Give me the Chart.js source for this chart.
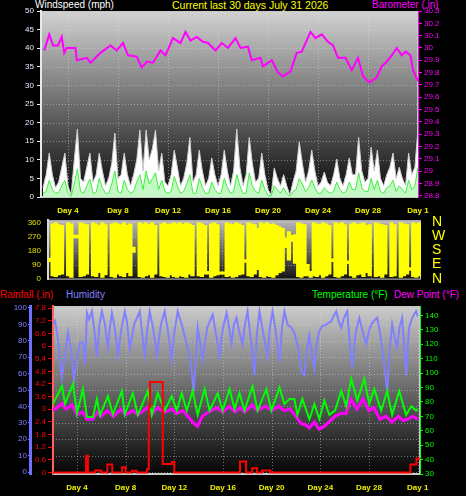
<!DOCTYPE html>
<html>
<head>
<meta charset="utf-8">
<script src="https://cdn.jsdelivr.net/npm/chart.js@4.4.1/dist/chart.umd.min.js"></script>
<style>
  body { margin: 0; width: 466px; height: 496px; background: #000; position: relative; overflow: hidden;
         font-family: "Liberation Sans", Arial, sans-serif; }
  canvas { position: absolute; left: 0; }
  .lbl { position: absolute; font-size: 10px; line-height: 10px; white-space: nowrap; }
</style>
</head>
<body>
<div class="lbl" style="left:35px;top:0;color:#ffffff">Windspeed (mph)</div>
<div class="lbl" style="left:172px;top:0;color:#ffff00;font-size:10.5px">Current last 30 days July 31 2026</div>
<div class="lbl" style="left:372px;top:0;color:#ff00ff">Barometer (.in)</div>

<div class="lbl" style="left:0;top:290px;color:#ff0000">Rainfall (.in)</div>
<div class="lbl" style="left:66px;top:290px;color:#8080ff">Humidity</div>
<div class="lbl" style="left:312px;top:290px;color:#00ff00">Temperature (°F)</div>
<div class="lbl" style="left:394px;top:290px;color:#ff00ff">Dew Point (°F)</div>

<canvas id="windChart" width="466" height="216" style="top:0"></canvas>
<canvas id="dirChart" width="466" height="76" style="top:212px"></canvas>
<canvas id="climateChart" width="466" height="200" style="top:296px"></canvas>

<script>
/* ===================================
   DATA  (x values are days of July, 32 = Aug 1)
   =================================== */

const dayTicks = [4, 8, 12, 16, 20, 24, 28, 32];
const dayTickLabels = ['Day 4', 'Day 8', 'Day 12', 'Day 16', 'Day 20', 'Day 24', 'Day 28', 'Day 1'];

// barometer (in)
const baroDay = [2.1, 2.5, 2.8, 3.2, 3.5, 3.7, 3.9, 4.6, 4.7, 5.5,
  5.8, 6.6, 7.4, 7.9, 8.4, 8.8, 9.5, 9.9, 10.3, 10.8,
  11.4, 11.8, 12.4, 13.0, 13.4, 13.8, 14.3, 14.8, 15.2, 15.8,
  16.3, 16.8, 17.4, 17.8, 18.4, 18.7, 19.4, 19.6, 20.3, 20.8,
  21.2, 21.8, 22.3, 22.7, 23.4, 23.8, 24.3, 24.8, 25.2, 25.6,
  26.2, 26.7, 27.2, 27.6, 28.1, 28.7, 29.1, 29.5, 29.9, 30.3,
  30.7, 31.0, 31.4, 31.6, 32.0];
const baroIn = [29.98, 30.11, 30.02, 30.02, 30.09, 29.96, 30.0, 30.0, 29.9, 29.92,
  29.88, 29.96, 30.02, 29.98, 30.04, 29.94, 29.93, 29.84, 29.89, 29.88,
  29.98, 29.94, 30.08, 30.04, 30.13, 30.06, 30.09, 30.05, 30.04, 29.98,
  30.04, 30.0, 30.08, 30.0, 30.01, 29.9, 29.92, 29.85, 29.9, 29.8,
  29.77, 29.81, 29.96, 29.97, 30.13, 30.08, 30.11, 30.05, 30.02, 29.92,
  29.92, 29.82, 29.92, 29.77, 29.72, 29.76, 29.85, 29.89, 29.94, 30.0,
  29.94, 29.97, 29.94, 29.82, 29.73];

// wind speed (mph), one sample every 6 hours from day 2
const windStartDay = 2;
const windStepDays = 0.25;
const windGust = [
  2.5, 6, 11.8, 6,   2.5, 4, 8, 11.8,   3, 0.5, 10, 18.3,  5, 4, 8, 11.8,
  4, 6, 11.8, 7,     3, 5, 9, 17.2,     5, 6, 11.8, 6,     3, 6, 10, 18,
  7, 18, 10, 13,     18, 7, 11.8, 4,    3, 6, 12.6, 8,     3, 5, 9, 16,
  4, 6, 12.6, 7,     3, 5, 10.5, 6,     3, 6, 12.6, 7,     3, 7, 18.3, 8,
  3, 6, 16, 9,       4, 5, 11.8, 6,     2, 0.5, 7.8, 5,    3, 6, 3, 0.5,
  4, 7, 14.8, 9,     4, 7, 12.6, 7,     3, 4, 6.7, 4,      3, 6, 10.2, 5,
  3, 6, 10.5, 6,     6, 16, 7, 4,       5, 13.4, 7, 12.6,  5, 3, 6, 8,
  11.8, 5, 8, 5,     3, 11.8, 6, 8,     18.3];
const windAvg = [
  1, 1.5, 4.5, 2,    1, 1.2, 3, 4.5,    1, 0.2, 3.5, 7.5,  1.5, 1, 3, 4.8,
  1, 1.2, 5, 2.5,    1, 1, 3.5, 7,      1.5, 1, 4.5, 2,    1, 1.5, 4, 6,
  2, 7, 3.5, 5,      6.5, 2, 4.5, 1.5,  1, 1.5, 5.5, 3,    1, 1.5, 3.5, 6,
  1, 1, 5, 2.5,      1, 1, 4, 2,        1, 1, 5, 2.5,      1, 1.5, 6, 3,
  1, 1, 6.5, 3,      1.5, 1, 4.5, 2,    0.5, 0.2, 3, 2,    1, 2.5, 1, 0.2,
  1.5, 2, 5, 3.5,    1.5, 2.5, 4.5, 2.5, 1, 1, 2.5, 1.5,   1, 1.5, 4, 2,
  1, 1.5, 4, 2,      2, 6.5, 2.5, 1.5,  1.5, 5, 2, 4.5,    1.5, 1, 2.5, 3,
  4.5, 1.5, 3, 2,    1, 4.5, 2, 3,      8];

// wind direction (deg): range swept in each 6-hour slot from day 2, null = calm
const dirStartDay = 2;
const dirSlotDays = 0.25;
const dirRange = [
  [110, 130], [20, 350], [15, 355], [25, 345], [30, 340], null, [20, 355], [10, 350],
  [262, 278], [262, 278], [15, 355], [20, 350], [30, 345], null, [20, 355], [15, 350],
  [40, 340], [10, 355], [25, 345], null, [15, 350], [10, 355], [30, 350], [20, 345],
  [15, 355], [40, 340], [20, 350], [170, 200], null, [15, 355], [10, 350], [20, 355],
  [25, 345], [10, 355], [30, 340], null, [20, 350], [15, 355], [10, 345], [25, 350],
  [15, 355], [10, 350], [20, 355], [15, 345], [10, 355], [30, 350], [20, 340], null,
  [20, 355], [15, 350], [30, 340], [30, 45], [10, 350], [20, 355], [25, 345], [30, 42],
  [30, 42], [15, 355], [20, 350], [10, 345], [15, 355], [25, 350], [30, 340], [105, 120],
  [20, 355], [15, 350], [30, 345], [60, 320], [15, 355], [10, 350], [20, 355], [15, 345],
  [10, 350], [25, 340], [40, 330], [50, 320], [200, 260], [120, 300], [240, 275], [100, 280],
  [15, 355], [10, 350], [20, 345], [20, 90], [10, 45], [20, 355], [15, 350], [25, 345],
  [10, 355], [20, 350], [30, 340], [110, 125], [15, 355], [10, 350], [20, 355], [30, 345],
  [98, 112], [20, 350], [10, 355], [25, 345], [30, 350], [15, 355], [40, 340], [20, 345],
  null, [15, 355], [20, 350], [10, 345], [30, 340], null, [15, 355], [20, 345],
  null, [10, 355], [20, 350], [30, 345], [55, 70], [15, 355], [10, 350], [20, 355]];
const dirTicks = [0, 90, 180, 270, 360];
const dirNames = ['N', 'E', 'S', 'W', 'N'];

// humidity (%)
const humDay = [2.0, 2.2, 2.45, 2.77, 3.0, 3.26, 3.5, 3.75, 4.0, 4.25,
  4.5, 4.66, 4.82, 5.0, 5.23, 5.45, 5.64, 5.85, 6.05, 6.3,
  6.54, 6.7, 6.87, 7.1, 7.36, 7.6, 7.93, 8.1, 8.34, 8.7,
  9.16, 9.35, 9.57, 9.8, 9.98, 10.25, 10.56, 10.9, 11.21, 11.5,
  11.79, 12.0, 12.28, 12.6, 13.02, 13.3, 13.59, 13.75, 13.92, 14.1,
  14.33, 14.7, 15.15, 15.4, 15.72, 16.0, 16.3, 16.5, 16.7, 16.9,
  17.11, 17.35, 17.6, 17.8, 18.02, 18.3, 18.59, 18.8, 19.0, 19.3,
  19.66, 19.85, 20.07, 20.35, 20.64, 20.85, 21.05, 21.3, 21.62, 21.9,
  22.2, 22.44, 22.69, 22.9, 23.1, 23.3, 23.51, 23.7, 23.92, 24.16,
  24.5, 24.9, 25.1, 25.31, 25.5, 25.72, 25.95, 26.21, 26.4, 26.62,
  26.9, 27.2, 27.5, 27.77, 28.0, 28.18, 28.4, 28.67, 28.9, 29.08,
  29.3, 29.49, 29.7, 29.9, 30.1, 30.31, 30.5, 30.72, 30.9, 31.05,
  31.2, 31.3, 31.54, 31.87, 32.0];
const humPct = [90, 92, 80, 58, 70, 85, 75, 56, 70, 79,
  79, 65, 97, 93, 98, 85, 70, 90, 98, 90,
  76, 88, 97, 88, 71, 85, 98, 92, 75, 90,
  98, 85, 71, 88, 98, 88, 71, 90, 98, 85,
  68, 85, 98, 90, 78, 70, 49, 65, 88, 80,
  68, 88, 96, 85, 71, 88, 97, 88, 78, 90,
  94, 85, 78, 90, 98, 80, 59, 85, 98, 85,
  70, 88, 98, 85, 67, 88, 98, 90, 88, 84,
  75, 61, 59, 75, 83, 72, 63, 78, 86, 89,
  90, 92, 95, 98, 92, 88, 94, 98, 80, 63,
  85, 94, 85, 78, 86, 90, 92, 94, 85, 76,
  62, 49, 75, 90, 82, 76, 88, 94, 75, 59,
  78, 88, 94, 98, 95];

// temperature (°F)
const tempDay = [2.03, 2.77, 3.02, 3.67, 4.0, 4.49, 4.82, 5.31, 5.64, 5.89,
  6.54, 6.95, 7.69, 7.93, 8.59, 9.0, 9.82, 10.15, 10.64, 11.21,
  11.79, 12.2, 12.61, 13.02, 13.51, 13.92, 14.49, 14.9, 15.56, 15.97,
  16.54, 16.95, 17.36, 17.77, 18.43, 18.84, 19.57, 19.98, 20.64, 21.05,
  21.46, 21.87, 22.11, 22.52, 23.1, 23.51, 23.92, 24.33, 24.74, 25.2,
  25.72, 26.13, 26.54, 27.03, 27.61, 28.02, 28.43, 29.0, 29.49, 29.9,
  30.48, 31.05, 31.46, 31.87, 32.0];
const tempF = [78.6, 91, 78.6, 92.5, 72, 89, 69.6, 69.6, 82, 70.7,
  84, 71.4, 87.5, 71.4, 86, 71, 87.5, 71, 86, 74,
  84, 74, 86, 74, 87.5, 71, 89, 74, 86, 74,
  89, 75, 86, 74, 91, 74, 89, 74, 90, 78.6,
  82, 82, 71, 82, 68, 78.6, 68, 81, 71, 74,
  87.5, 77, 96, 81, 96, 78.6, 89, 74, 87.5, 71,
  87.5, 71, 77, 74, 75];

// dew point (°F)
const dewDay = [2.0, 2.5, 2.8, 3.1, 3.6, 4.0, 4.5, 4.8, 5.3, 5.7,
  6.0, 6.5, 7.0, 7.6, 8.0, 8.6, 9.0, 9.8, 10.2, 10.6,
  11.2, 11.8, 12.2, 12.7, 13.1, 13.5, 13.9, 14.3, 14.8, 15.5,
  16.0, 16.5, 17.0, 17.4, 17.8, 18.4, 18.8, 19.5, 20.0, 20.6,
  21.0, 21.5, 22.0, 22.4, 22.8, 23.1, 23.5, 23.9, 24.3, 24.7,
  25.2, 25.7, 26.1, 26.5, 27.0, 27.5, 28.0, 28.4, 28.9, 29.4,
  29.9, 30.4, 30.8, 31.2, 31.6, 32.0];
const dewF = [74, 77, 79, 75, 78, 71, 73, 68, 68, 73,
  70, 74, 70, 75, 71, 74, 71, 76, 72, 76,
  73, 75, 72, 74, 70, 66, 63, 70, 73, 76,
  73, 77, 73, 76, 73, 78, 74, 77, 74, 77,
  74, 75, 70, 65, 64, 62, 66, 61, 63, 66,
  70, 72, 72, 82, 75, 82, 74, 76, 68, 70,
  66, 70, 67, 68, 70, 68];

// rainfall (in), value holds until the next change
const rainDay = [2.0, 4.75, 4.9, 5.5, 6.0, 6.5, 6.9, 7.7, 8.0, 8.5,
  8.9, 9.75, 9.9, 10.0, 11.05, 11.8, 12.0, 17.4, 17.9, 18.4,
  18.8, 19.2, 19.9, 31.4, 31.9, 32.2];
const rainIn = [0, 0.8, 0, 0.1, 0, 0.38, 0, 0.25, 0, 0.08,
  0, 0.15, 3.1, 4.3, 0.4, 0.5, 0, 0.52, 0, 0.2,
  0, 0.1, 0, 0.38, 0.65, 0.65];

const windTicks = [0, 5, 10, 15, 20, 25, 30, 35, 40, 45, 50];
const baroTicks = [28.8, 28.9, 29.0, 29.1, 29.2, 29.3, 29.4, 29.5, 29.6, 29.7,
  29.8, 29.9, 30.0, 30.1, 30.2, 30.3];
const humTicks = [0, 10, 20, 30, 40, 50, 60, 70, 80, 90, 100];
const rainTicks = [0, 0.6, 1.2, 1.8, 2.4, 3, 3.6, 4.2, 4.8, 5.4, 6, 6.6, 7.2, 7.8];
const tempTicks = [30, 40, 50, 60, 70, 80, 90, 100, 110, 120, 130, 140];

/* ===================================
   HELPERS
   =================================== */

const FONT = '"Liberation Sans", Arial, sans-serif';
const pairs = (xs, ys) => xs.map((x, i) => ({ x: x, y: ys[i] }));
const fixedTicks = (list) => (scale) => { scale.ticks = list.map((v) => ({ value: v })); };
const fixedWidth = (w) => (scale) => { scale.width = w; };
const fixedHeight = (h) => (scale) => { scale.height = h; };
const trimNum = (v) => String(Number(v.toFixed(1)));

// gradient plot background with dotted grid, drawn under everything
function panelBackground(colTop, colBottom, xId, yId, yGrid) {
  return {
    id: 'panelBackground',
    beforeDraw(chart) {
      const { ctx, chartArea: a, scales } = chart;
      const g = ctx.createLinearGradient(0, a.top, 0, a.bottom);
      g.addColorStop(0, colTop);
      g.addColorStop(1, colBottom);
      ctx.save();
      ctx.fillStyle = g;
      ctx.fillRect(a.left, a.top, a.right - a.left, a.bottom - a.top);
      ctx.strokeStyle = 'rgba(225,225,225,0.45)';
      ctx.lineWidth = 1;
      ctx.setLineDash([1, 2]);
      ctx.beginPath();
      dayTicks.forEach((d) => {
        const x = Math.round(scales[xId].getPixelForValue(d)) + 0.5;
        if (x > a.left + 1 && x < a.right - 1) { ctx.moveTo(x, a.top); ctx.lineTo(x, a.bottom); }
      });
      yGrid.forEach((v) => {
        const y = Math.round(scales[yId].getPixelForValue(v)) + 0.5;
        if (y > a.top + 1 && y < a.bottom - 1) { ctx.moveTo(a.left, y); ctx.lineTo(a.right, y); }
      });
      ctx.stroke();
      ctx.setLineDash([]);
      ctx.strokeStyle = '#c8c8c8';
      ctx.strokeRect(a.left + 0.5, a.top + 0.5, a.right - a.left - 1, a.bottom - a.top - 1);
      ctx.restore();
    },
  };
}

function dayAxis(min, max, height, showLabels) {
  return {
    type: 'linear', min: min, max: max, display: showLabels, offset: false,
    afterBuildTicks: fixedTicks(dayTicks),
    afterFit: fixedHeight(height),
    ticks: {
      color: '#f0f000', font: { family: FONT, size: 8, weight: 'bold' }, padding: 9,
      maxRotation: 0, autoSkip: false,
      callback: (v) => dayTickLabels[dayTicks.indexOf(v)],
    },
    grid: { drawOnChartArea: false, drawTicks: false, offset: false },
    border: { color: '#c8c8c8', width: 1 },
  };
}

// tick marks of length `tickLength`; `gap` is an invisible extra tick that
// pushes labels away from the axis without adding layout padding
function valueAxis(opts) {
  const gap = opts.gap || 0;
  return {
    position: opts.position, weight: opts.weight || 0,
    min: opts.min, max: opts.max,
    afterBuildTicks: fixedTicks(opts.ticks),
    afterFit: fixedWidth(opts.width),
    ticks: {
      color: opts.color, font: { family: FONT, size: opts.size || 8 }, padding: opts.padding,
      autoSkip: false, callback: opts.format || trimNum,
    },
    grid: { drawOnChartArea: false, drawTicks: opts.tickLength + gap > 0, tickLength: opts.tickLength + gap,
            tickColor: gap ? 'rgba(0,0,0,0)' : (opts.tickColor || opts.color) },
    border: { display: opts.border !== false, color: opts.borderColor || opts.color, width: opts.borderWidth || 1 },
  };
}

Chart.defaults.animation = false;
Chart.defaults.responsive = false;
Chart.defaults.plugins.legend.display = false;
Chart.defaults.plugins.tooltip.enabled = false;
Chart.defaults.elements.point.radius = 0;
Chart.defaults.elements.line.tension = 0;

/* ===================================
   WIND SPEED + BAROMETER
   =================================== */

const windX = windGust.map((_, i) => windStartDay + i * windStepDays);

new Chart(document.getElementById('windChart'), {
  type: 'line',
  data: {
    datasets: [
      { data: pairs(baroDay, baroIn), yAxisID: 'yBaro', borderColor: '#ff00ff', borderWidth: 2, order: 1 },
      { data: pairs(windX, windAvg), yAxisID: 'yWind', borderColor: '#40f040', borderWidth: 1,
        backgroundColor: '#c4f8c4', fill: 'origin', order: 2 },
      { data: pairs(windX, windGust), yAxisID: 'yWind', borderColor: '#cfcfcf', borderWidth: 1,
        backgroundColor: '#ffffff', fill: 'origin', order: 3 },
    ],
  },
  options: {
    layout: { padding: { top: 11, left: 0, right: 0, bottom: 0 } },
    scales: {
      x: dayAxis(1.84, 32, 19, true),
      yWind: valueAxis({ position: 'left', min: 0, max: 50, ticks: windTicks, width: 41,
        color: '#e4ecff', padding: 3, tickLength: 4, borderColor: '#e8e8e8', borderWidth: 2,
        format: (v) => String(v) }),
      yBaro: valueAxis({ position: 'right', min: 28.79, max: 30.3, ticks: baroTicks, width: 48,
        color: '#ff00ff', padding: 2, tickLength: 4 }),
    },
  },
  plugins: [panelBackground('#d2d2d2', '#080808', 'x', 'yWind', windTicks)],
});

/* ===================================
   WIND DIRECTION
   =================================== */

const dirBars = [];
dirRange.forEach((r, i) => {
  if (r) dirBars.push({ x: dirStartDay + (i + 0.5) * dirSlotDays, y: r });
});

new Chart(document.getElementById('dirChart'), {
  type: 'bar',
  data: {
    datasets: [{
      data: dirBars, yAxisID: 'yDir', backgroundColor: '#ffff00', borderWidth: 0,
      barPercentage: 1, categoryPercentage: 1, grouped: false, inflateAmount: 0.6,
    }],
  },
  options: {
    layout: { padding: { top: 8, left: 0, right: 0, bottom: 8 } },
    scales: {
      x: dayAxis(2, 32, 0, false),
      yDir: valueAxis({ position: 'left', min: -6, max: 373, ticks: dirTicks, width: 48,
        color: '#e0e000', padding: 0, tickLength: 4, gap: 3, borderColor: '#d8d8d8', borderWidth: 2,
        format: (v) => String(v) }),
      yName: valueAxis({ position: 'right', min: -6, max: 373, ticks: dirTicks, width: 45,
        color: '#ffff00', size: 14, padding: 0, tickLength: 0, gap: 11, border: false,
        format: (v) => dirNames[dirTicks.indexOf(v)] }),
    },
  },
  plugins: [panelBackground('#b8b8b8', '#121212', 'x', 'yDir', dirTicks)],
});

/* ===================================
   RAIN / HUMIDITY / TEMPERATURE / DEW POINT
   =================================== */

new Chart(document.getElementById('climateChart'), {
  type: 'line',
  data: {
    datasets: [
      { data: pairs(rainDay, rainIn), yAxisID: 'yRain', borderColor: '#ff0000', borderWidth: 2,
        stepped: true, order: 1 },
      { data: pairs(tempDay, tempF), yAxisID: 'yTemp', borderColor: '#00ff00', borderWidth: 2, order: 2 },
      { data: pairs(dewDay, dewF), yAxisID: 'yTemp', borderColor: '#ff00ff', borderWidth: 3, order: 3 },
      { data: pairs(humDay, humPct), yAxisID: 'yHum', borderColor: '#8080ff', borderWidth: 2, order: 4 },
    ],
  },
  options: {
    layout: { padding: { top: 10, left: 0, right: 0, bottom: 0 } },
    scales: {
      x: dayAxis(2.03, 32.19, 22, true),
      yHum: valueAxis({ position: 'left', weight: 2, min: -1.2, max: 101.2, ticks: humTicks, width: 30,
        color: '#8080ff', padding: 1, tickLength: 2, borderColor: '#7070ff', borderWidth: 3,
        format: (v) => String(v) }),
      yRain: valueAxis({ position: 'left', weight: 1, min: -0.07, max: 7.9, ticks: rainTicks, width: 23,
        color: '#ff0000', padding: 2, tickLength: 5, borderColor: '#ff6060', borderWidth: 2 }),
      yTemp: valueAxis({ position: 'right', min: 30, max: 146.5, ticks: tempTicks, width: 46,
        color: '#00ff00', padding: 2, tickLength: 3, format: (v) => String(v) }),
    },
  },
  plugins: [panelBackground('#cccccc', '#040404', 'x', 'yHum', humTicks)],
});
</script>
</body>
</html>
